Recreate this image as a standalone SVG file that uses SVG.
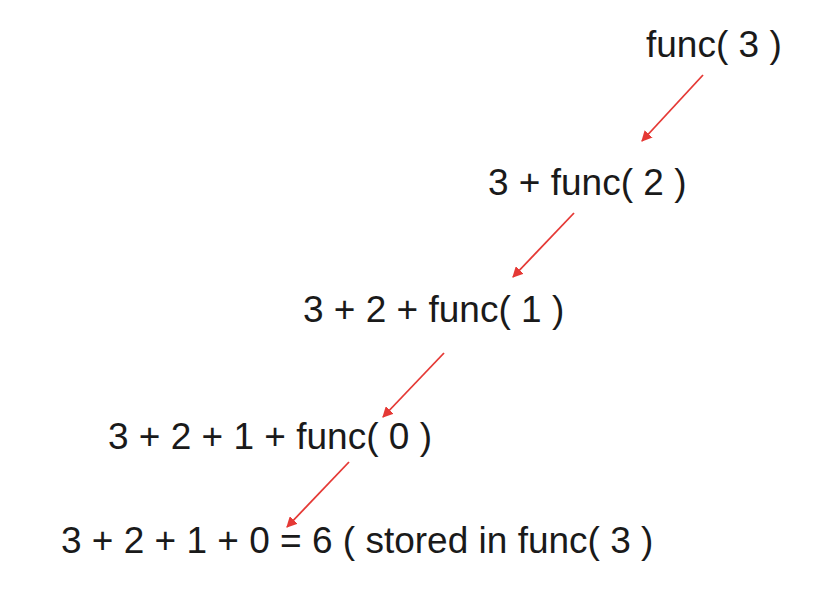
<svg xmlns="http://www.w3.org/2000/svg" width="828" height="596" viewBox="0 0 828 596">
<style>
.t{font-family:"Liberation Sans",Arial,sans-serif;font-size:37px;fill:#1a1a1a}
.c{stroke:#e53935;stroke-width:1.8;fill:none}
</style>
<defs>
<marker id="ah" viewBox="0 0 10 10" refX="9" refY="5" markerWidth="6" markerHeight="6" markerUnits="strokeWidth" orient="auto">
<path d="M0,0 L10,5 L0,10 z" fill="#e53935"/>
</marker>
</defs>
<rect width="828" height="596" fill="#fff"/>
<g id="n1"><text class="t" x="646" y="57">func( 3 )</text></g>
<g id="n2"><text class="t" x="488" y="195">3 + func( 2 )</text></g>
<g id="n3"><text class="t" x="303" y="322">3 + 2 + func( 1 )</text></g>
<g id="n4"><text class="t" x="108" y="449">3 + 2 + 1 + func( 0 )</text></g>
<g id="n5"><text class="t" x="61" y="553">3 + 2 + 1 + 0 = 6 ( stored in func( 3 )</text></g>
<g id="connectors">
<line class="c" x1="703" y1="75" x2="642" y2="141" marker-end="url(#ah)"/>
<line class="c" x1="574" y1="213" x2="513" y2="277" marker-end="url(#ah)"/>
<line class="c" x1="444" y1="353" x2="383" y2="417" marker-end="url(#ah)"/>
<line class="c" x1="349" y1="462" x2="287" y2="527" marker-end="url(#ah)"/>
</g>
</svg>
